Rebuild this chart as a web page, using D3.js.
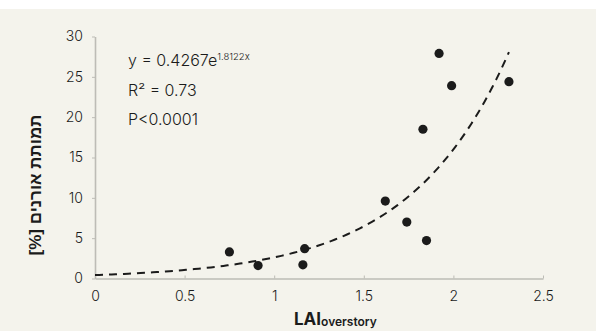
<!DOCTYPE html>
<html>
<head>
<meta charset="utf-8">
<script src="https://cdn.jsdelivr.net/npm/d3@7"></script>
<style>
  html, body { margin: 0; padding: 0; background: #ffffff; }
  svg { display: block; }
</style>
</head>
<body>
<svg id="chart"></svg>
<script>
// data
var laiValues = [0.75, 0.91, 1.16, 1.17, 1.62, 1.74, 1.83, 1.85, 1.92, 1.99, 2.31];
var mortalityValues = [3.3, 1.6, 1.7, 3.7, 9.6, 7.0, 18.5, 4.7, 27.9, 23.9, 24.4];
var xTicks = [0, 0.5, 1, 1.5, 2, 2.5];
var yTicks = [0, 5, 10, 15, 20, 25, 30];
// fitted curve y = a * e^(b x)
var fitCoef = [0.4267, 1.8122];
var fitRange = [0, 2.31];
var statLines = ["R\u00B2 = 0.73", "P<0.0001"];

var WIDTH = 596, HEIGHT = 331;
var BG_COLOR = "#f4f3ec";
var AXIS_COLOR = "#bdbcb6";
var INK = "#1b1b1b";
var NUM_FONT = "Inter, 'DejaVu Sans', sans-serif";

var svg = d3.select("#chart")
    .attr("width", WIDTH)
    .attr("height", HEIGHT);

//background panel
svg.append("rect")
    .attr("x", 0)
    .attr("y", 9)
    .attr("width", WIDTH)
    .attr("height", HEIGHT - 9)
    .style("fill", BG_COLOR);

var x = d3.scaleLinear().domain([0, 2.5]).range([95, 543]);
var y = d3.scaleLinear().domain([0, 30]).range([278.5, 36.5]);

//x axis
var xAxis = svg.append("g")
    .attr("transform", "translate(0," + y(0) + ")")
    .call(d3.axisBottom(x).tickValues(xTicks).tickSize(3).tickSizeOuter(0)
        .tickFormat(function (d) { return String(d); }));
xAxis.select(".domain").style("stroke", AXIS_COLOR).style("stroke-width", 1.6);
xAxis.selectAll(".tick line").style("stroke", AXIS_COLOR).attr("y2", -3);
xAxis.selectAll(".tick text")
    .attr("y", 13)
    .style("font-family", NUM_FONT)
    .style("font-size", "14px")
    .style("font-weight", 300)
    .style("fill", INK);

//y axis
var yAxis = svg.append("g")
    .attr("transform", "translate(" + x(0) + ",0)")
    .call(d3.axisLeft(y).tickValues(yTicks).tickSize(3).tickSizeOuter(0));
yAxis.select(".domain").style("stroke", AXIS_COLOR).style("stroke-width", 1.6);
yAxis.selectAll(".tick line").style("stroke", AXIS_COLOR);
yAxis.selectAll(".tick text")
    .attr("x", -12)
    .style("font-family", NUM_FONT)
    .style("font-size", "14px")
    .style("font-weight", 300)
    .style("fill", INK);

//trend line
var fitPts = d3.range(0, 101).map(function (i) {
    var xv = fitRange[0] + (fitRange[1] - fitRange[0]) * i / 100;
    return [xv, fitCoef[0] * Math.exp(fitCoef[1] * xv)];
});
svg.append("path")
    .datum(fitPts)
    .attr("d", d3.line().x(function (d) { return x(d[0]); }).y(function (d) { return y(d[1]); }))
    .style("fill", "none")
    .style("stroke", INK)
    .style("stroke-width", 2)
    .style("stroke-dasharray", "8,6");

//points
svg.selectAll("circle.pt")
    .data(laiValues)
    .enter().append("circle")
    .attr("class", "pt")
    .attr("cx", function (d) { return x(d); })
    .attr("cy", function (d, i) { return y(mortalityValues[i]); })
    .attr("r", 4.6)
    .style("fill", INK);

//equation text
var eq = svg.append("text")
    .attr("x", 128)
    .attr("y", 66)
    .style("font-family", NUM_FONT)
    .style("font-size", "16px")
    .style("font-weight", 300)
    .style("fill", INK);
eq.append("tspan").text("y = " + fitCoef[0] + "e");
eq.append("tspan")
    .attr("dy", -6)
    .style("font-size", "9.5px")
    .text(fitCoef[1] + "x");

statLines.forEach(function (s, i) {
    svg.append("text")
        .attr("x", 128)
        .attr("y", 96 + i * 29)
        .style("font-family", NUM_FONT)
        .style("font-size", "16px")
        .style("font-weight", 300)
        .style("fill", INK)
        .text(s);
});

//y label
svg.append("text")
    .attr("transform", "translate(41,185) rotate(-90)")
    .attr("direction", "rtl")
    .style("text-anchor", "middle")
    .style("font-family", "'Liberation Sans', 'DejaVu Sans', sans-serif")
    .style("font-weight", "bold")
    .style("font-size", "17px")
    .style("fill", INK)
    .text("תמותת אורנים [%]");

//x label
var xl = svg.append("text")
    .attr("x", 294)
    .attr("y", 325)
    .style("font-family", NUM_FONT)
    .style("fill", INK);
xl.append("tspan")
    .style("font-weight", "bold")
    .style("font-size", "17px")
    .text("LAI");
xl.append("tspan")
    .style("font-weight", 600)
    .style("font-size", "12px")
    .attr("dy", 1)
    .text("overstory");
</script>
</body>
</html>
